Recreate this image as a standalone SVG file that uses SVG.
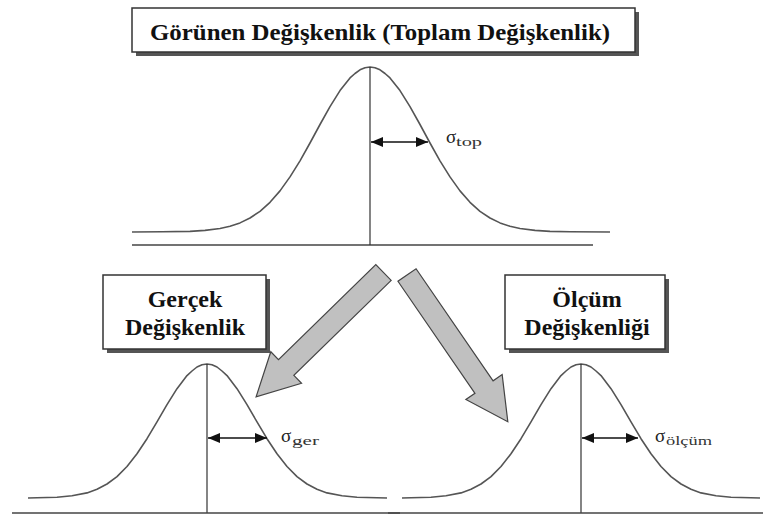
<svg xmlns="http://www.w3.org/2000/svg" width="763" height="516" viewBox="0 0 763 516">
<style>
.bg{fill:#ffffff}
.box{fill:#ffffff;stroke:#333333;stroke-width:1.5}
.shadow{fill:#555555}
.title{font-weight:bold;font-size:24px;fill:#111111;text-anchor:middle}
.curve{fill:none;stroke:#555555;stroke-width:1.6;stroke-linejoin:round}
.axis{fill:none;stroke:#444444;stroke-width:1.3}
.vline{fill:none;stroke:#333333;stroke-width:1.2}
.sd{fill:none;stroke:#111111;stroke-width:1.3}
.sig{font-size:19px;fill:#222222}
.sub{font-size:13px;fill:#333333}
.fat{fill:#c0c0c0;stroke:#444444;stroke-width:1.2;stroke-linejoin:miter}
</style>
<defs>
<marker id="ah" viewBox="0 0 12 10" refX="12" refY="5" markerWidth="12" markerHeight="10" markerUnits="userSpaceOnUse" orient="auto-start-reverse">
<path d="M0,0 L12,5 L0,10 Z" fill="#111111"/>
</marker>
<polygon id="fatArrow" points="0,-11 136,-11 136,-22 178,0 136,22 136,11 0,11"/>
</defs>
<rect class="bg" x="0" y="0" width="763" height="516"/>

<g id="title-node">
<rect class="shadow" x="136" y="12" width="503" height="44"/>
<rect class="box" x="132" y="8" width="503" height="44"/>
<text class="title" font-family="'Liberation Serif', serif" x="380" y="40" textLength="460" lengthAdjust="spacingAndGlyphs">Görünen Değişkenlik (Toplam Değişkenlik)</text>
</g>

<g id="top-curve">
<line class="axis" x1="132" y1="245" x2="593" y2="245"/>
<polyline class="curve" points="132,232 162,231.8 190,231.4 205,230.4 220,228.5 230,226.3 240,222.9 250,218 260,211.3 270,202.3 280,190.9 290,176.9 300,160.8 310,143 320,124.5 330,106.6 340,90.6 350,77.9 355,73.5 360,69.8 365,67.7 370,67 375,67.7 380,69.8 385,73.5 390,77.9 400,90.6 410,106.6 420,124.5 430,143 440,160.8 450,176.9 460,190.9 470,202.3 480,211.3 490,218 500,222.9 510,226.3 520,228.5 535,230.4 550,231.4 570,231.8 610,232"/>
<line class="vline" x1="370" y1="67" x2="370" y2="245"/>
<line class="sd" x1="371" y1="142" x2="428" y2="142" marker-start="url(#ah)" marker-end="url(#ah)"/>
<text class="sig" font-family="'Liberation Serif', serif" x="446" y="143">σ</text>
<text class="sub" font-family="'Liberation Serif', serif" x="456" y="146" textLength="26" lengthAdjust="spacingAndGlyphs">top</text>
</g>

<g id="gercek-node">
<rect class="shadow" x="107" y="279" width="163" height="74"/>
<rect class="box" x="103" y="275" width="163" height="74"/>
<text class="title" font-family="'Liberation Serif', serif" x="185" y="307">Gerçek</text>
<text class="title" font-family="'Liberation Serif', serif" x="185" y="335">Değişkenlik</text>
</g>

<g id="olcum-node">
<rect class="shadow" x="509" y="279" width="160" height="74"/>
<rect class="box" x="505" y="275" width="160" height="74"/>
<text class="title" font-family="'Liberation Serif', serif" x="587" y="307">Ölçüm</text>
<text class="title" font-family="'Liberation Serif', serif" x="587" y="335">Değişkenliği</text>
</g>

<g id="gercek-curve">
<polyline class="curve" points="28,498 37,497.8 57,497.2 72,495.8 87,492.9 97,489.3 107,484 117,476.6 127,466.5 137,453.8 147,438.7 157,421.9 167,404.7 177,388.7 187,375.6 192,371 197,367 202,364.8 207,364 212,364.8 217,367 222,371 227,375.6 237,388.7 247,404.7 257,421.9 267,438.7 277,453.8 287,466.5 297,476.6 307,484 317,489.3 327,492.9 342,495.8 357,497.2 377,497.8 387,498"/>
<line class="vline" x1="207" y1="364" x2="207" y2="513"/>
<line class="sd" x1="208" y1="438" x2="267" y2="438" marker-start="url(#ah)" marker-end="url(#ah)"/>
<text class="sig" font-family="'Liberation Serif', serif" x="281" y="442">σ</text>
<text class="sub" font-family="'Liberation Serif', serif" x="292" y="445" textLength="27" lengthAdjust="spacingAndGlyphs">ger</text>
</g>

<g id="olcum-curve">
<polyline class="curve" points="402,498 411,497.8 431,497.2 446,495.8 461,492.9 471,489.3 481,484 491,476.6 501,466.5 511,453.8 521,438.7 531,421.9 541,404.7 551,388.7 561,375.6 566,371 571,367 576,364.8 581,364 586,364.8 591,367 596,371 601,375.6 611,388.7 621,404.7 631,421.9 641,438.7 651,453.8 661,466.5 671,476.6 681,484 691,489.3 701,492.9 716,495.8 731,497.2 751,497.8 760,498"/>
<line class="vline" x1="581" y1="364" x2="581" y2="513"/>
<line class="sd" x1="582" y1="438" x2="638" y2="438" marker-start="url(#ah)" marker-end="url(#ah)"/>
<text class="sig" font-family="'Liberation Serif', serif" x="655" y="442">σ</text>
<text class="sub" font-family="'Liberation Serif', serif" x="666" y="445" textLength="46" lengthAdjust="spacingAndGlyphs">ölçüm</text>
</g>

<g id="bottom-axis">
<line class="axis" x1="12" y1="513" x2="400" y2="513"/>
<line class="axis" x1="388" y1="513" x2="763" y2="513"/>
</g>

<g id="connectors">
<use href="#fatArrow" class="fat" transform="translate(383.5,272.5) rotate(135.7)"/>
<use href="#fatArrow" class="fat" transform="translate(407,275) rotate(55.5)"/>
</g>
</svg>
